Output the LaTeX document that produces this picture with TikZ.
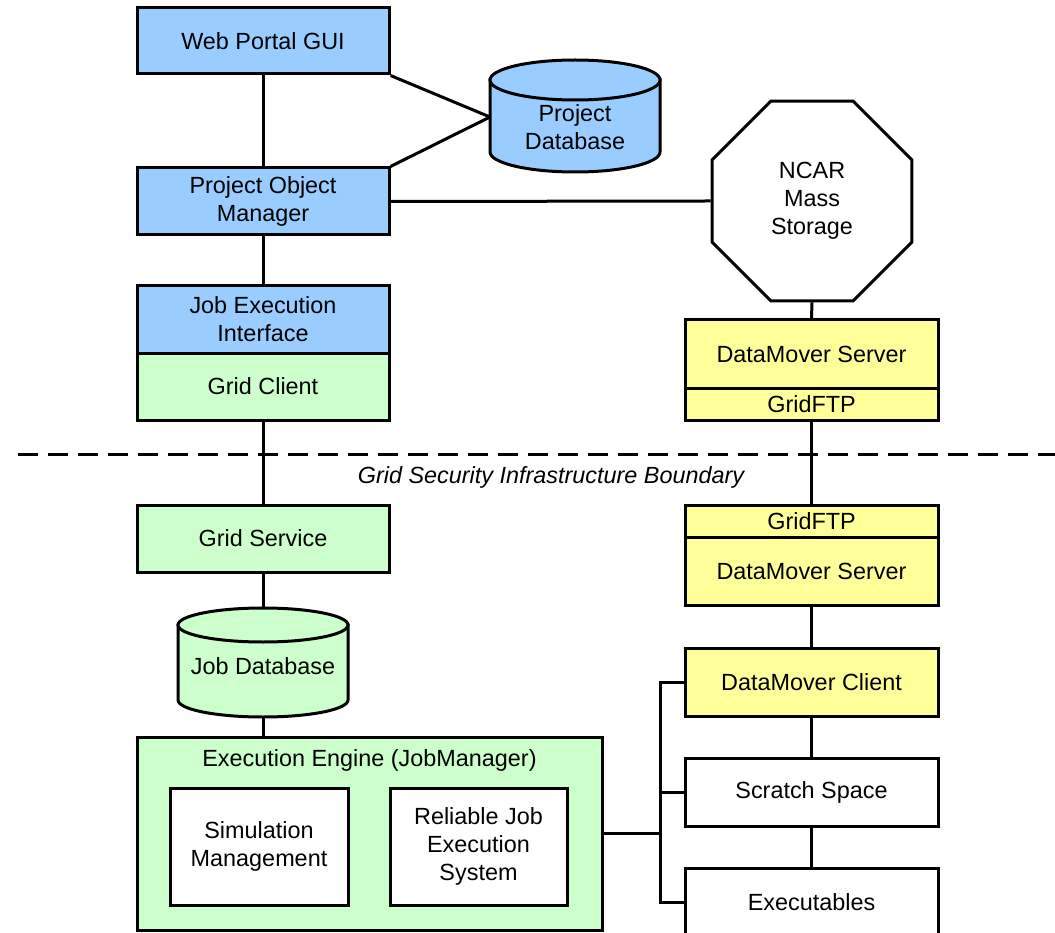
\documentclass[tikz,border=0pt]{standalone}
\usepackage{fontspec}
\setmainfont{Liberation Sans}
\usetikzlibrary{shapes.geometric}
\definecolor{cblue}{HTML}{99CCFF}
\definecolor{cgreen}{HTML}{CCFFCC}
\definecolor{cyellow}{HTML}{FFFF99}
\begin{document}
\begin{tikzpicture}[x=1pt,y=-1pt,
  txt/.style={font=\fontsize{23.4}{28}\selectfont, align=center},
  box/.style={draw, line width=3pt, inner sep=0pt, txt},
  wbox/.style={box, minimum width=252pt, minimum height=67pt},
  rbox/.style={box, minimum width=253pt, minimum height=68pt},
  conn/.style={line width=3pt},
  cyl/.style={draw, line width=3pt}]
\clip (0,0) rectangle (1055,933);
\fill[white] (0,0) rectangle (1055,933);

% boundary
\draw[line width=3pt, dash pattern=on 20pt off 10pt] (18,454) -- (1055,454);
\node[txt, font=\fontsize{23.4}{28}\selectfont\itshape] (gsib) at (551,477) {Grid Security Infrastructure Boundary};

% left column
\node[wbox, fill=cblue, minimum height=66pt] (web) at (263,41) {Web Portal GUI};
\node[wbox, fill=cblue] (pom) at (263,201.5) {Project Object\\Manager};
\node[wbox, fill=cblue] (jei) at (263,319.5) {Job Execution\\Interface};
\node[wbox, fill=cgreen] (gc) at (263,386.5) {Grid Client};
\node[wbox, fill=cgreen] (gs) at (263,538.5) {Grid Service};

% project database cylinder
\path[cyl, fill=cblue] (490,80) -- (490,152) arc (180:0:85 and 20) -- (660,80) -- cycle;
\draw[cyl, fill=cblue] (575,80) ellipse [x radius=85, y radius=20];
\node[txt] (pdb) at (575,127) {Project\\Database};
\coordinate (pdbL) at (490,117);

% job database cylinder
\path[cyl, fill=cgreen] (178,625) -- (178,700) arc (180:0:85 and 17) -- (348,625) -- cycle;
\draw[cyl, fill=cgreen] (263,625) ellipse [x radius=85, y radius=17];
\node[txt] (jdb) at (263,666) {Job Database};
\coordinate (jdbT) at (263,608);
\coordinate (jdbB) at (263,717);

% execution engine
\node[box, fill=cgreen, minimum width=465pt, minimum height=193pt] (ee) at (369.5,833.5) {};
\node[txt] (eet) at (369.5,760) {Execution Engine (JobManager)};
\node[box, fill=white, minimum width=178pt, minimum height=117pt] (sim) at (259,846.5) {Simulation\\Management};
\node[box, fill=white, minimum width=177pt, minimum height=117pt] (rjes) at (478.5,846.5) {Reliable Job\\Execution\\System};

% right column
\node[regular polygon, regular polygon sides=8, draw, line width=3pt, fill=white,
      minimum size=216pt, inner sep=0pt, txt] (ncar) at (812,201) {NCAR\\Mass\\Storage};
\node[rbox, fill=cyellow] (dms1) at (811.5,354) {DataMover Server};
\node[rbox, fill=cyellow, minimum height=32pt] (gftp1) at (811.5,404) {GridFTP};
\node[rbox, fill=cyellow, minimum height=32pt] (gftp2) at (811.5,521) {GridFTP};
\node[rbox, fill=cyellow] (dms2) at (811.5,571) {DataMover Server};
\node[rbox, fill=cyellow] (dmc) at (811.5,682) {DataMover Client};
\node[rbox, fill=white] (scr) at (811.5,792) {Scratch Space};
\node[rbox, fill=white] (exe) at (811.5,902) {Executables};

% connectors
\draw[conn] (web.south) -- (pom.north);
\draw[conn] (pom.south) -- (jei.north);
\draw[conn] (gc.south) -- (gs.north);
\draw[conn] (gs.south) -- (jdbT);
\draw[conn] (jdbB) -- (jdbB |- ee.north);
\draw[conn] (web.south east) -- (pdbL);
\draw[conn] (pom.north east) -- (pdbL);
\draw[conn] (pom.east) -- (ncar.west);
\draw[conn] (ncar.south) -- (dms1.north);
\draw[conn] (gftp1.south) -- (gftp2.north);
\draw[conn] (dms2.south) -- (dmc.north);
\draw[conn] (dmc.south) -- (scr.north);
\draw[conn] (scr.south) -- (exe.north);
\coordinate (b1) at (660,682);
\coordinate (b3) at (660,902);
\coordinate (bm) at (660,833.5);
\draw[conn] (dmc.west) -- (b1) -- (b3) -- (exe.west);
\draw[conn] (scr.west) -- (scr.west -| b1);
\draw[conn] (ee.east) -- (bm);
\end{tikzpicture}
\end{document}
